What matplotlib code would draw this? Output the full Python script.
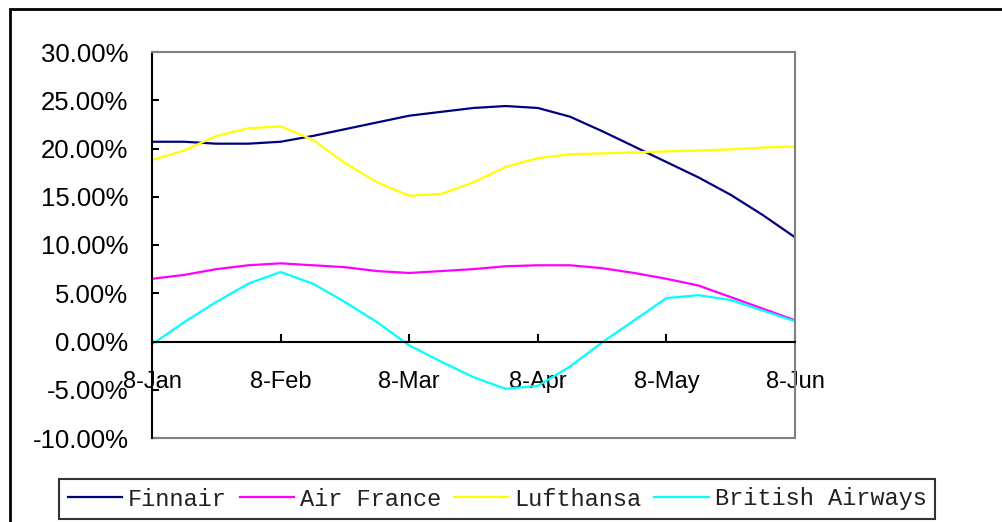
import matplotlib
matplotlib.use("Agg")
import matplotlib.pyplot as plt
from matplotlib.patches import Rectangle
from matplotlib.lines import Line2D

# 21 points, 4 per month (category axis)
tick_labels = ["8-Jan", "8-Feb", "8-Mar", "8-Apr", "8-May", "8-Jun"]
tick_every = 4

finnair = [20.7, 20.7, 20.5, 20.5, 20.7, 21.3, 22.0, 22.7, 23.4, 23.8, 24.2,
           24.4, 24.2, 23.3, 21.8, 20.2, 18.6, 17.0, 15.2, 13.1, 10.8]
air_france = [6.5, 6.9, 7.5, 7.9, 8.1, 7.9, 7.7, 7.3, 7.1, 7.3, 7.5,
              7.8, 7.9, 7.9, 7.6, 7.1, 6.5, 5.8, 4.6, 3.4, 2.2]
lufthansa = [18.8, 19.8, 21.3, 22.1, 22.3, 20.9, 18.5, 16.5, 15.1, 15.3, 16.5,
             18.1, 19.0, 19.4, 19.5, 19.6, 19.7, 19.8, 19.9, 20.1, 20.2]
british = [-0.3, 2.0, 4.1, 6.0, 7.2, 6.0, 4.1, 2.0, -0.4, -2.1, -3.7,
           -4.9, -4.6, -2.6, -0.1, 2.2, 4.5, 4.8, 4.3, 3.2, 2.1]

series = [("Finnair", finnair, "#000080"),
          ("Air France", air_france, "#FF00FF"),
          ("Lufthansa", lufthansa, "#FFFF00"),
          ("British Airways", british, "#00FFFF")]

fig = plt.figure(figsize=(10.02, 5.22), dpi=100)
ax = fig.add_axes([152/1002, 1-438/522, (795-152)/1002, (438-52)/522])

x = list(range(len(finnair)))
handles = []
for name, vals, col in series:
    h, = ax.plot(x, vals, color=col, lw=1.6, label=name)
    handles.append(h)

ax.set_xlim(0, len(finnair)-1)
ax.set_ylim(-10, 30)
ax.set_yticks(range(-10, 31, 5))
ax.set_yticklabels([f"{v:.2f}%" for v in range(-10, 31, 5)])
ax.set_xticks(range(0, len(finnair), tick_every))
ax.set_xticklabels(tick_labels)

for s in ["top", "right"]:
    ax.spines[s].set_color("#808080")
    ax.spines[s].set_linewidth(1.5)
ax.spines["left"].set_color("black")
ax.spines["left"].set_linewidth(1.5)
ax.spines["bottom"].set_position(("data", 0))
ax.spines["bottom"].set_color("black")
ax.spines["bottom"].set_linewidth(1.5)
ax.add_line(Line2D([0, 1], [0, 0], transform=ax.transAxes, color="#808080",
                   lw=1.5, clip_on=False))

ax.tick_params(axis="y", direction="in", length=5, width=1.5, pad=17,
               labelsize=18.5, colors="black")
ax.tick_params(axis="x", direction="in", length=6, width=1.5, pad=21,
               labelsize=17, colors="black")
for lab in ax.get_xticklabels() + ax.get_yticklabels():
    lab.set_fontfamily("Liberation Sans")

# outer frame
fig.add_artist(Rectangle((10/1002, -0.1), 1.2, 1-9/522+0.1,
                         transform=fig.transFigure, fill=False,
                         edgecolor="black", lw=2))

leg = fig.legend(handles=handles, loc="center",
                 bbox_to_anchor=(497/1002, 1-499/522), ncol=4,
                 prop={"family": "Liberation Mono", "size": 17},
                 frameon=True, fancybox=False, edgecolor="black",
                 handlelength=2.3, handletextpad=0.25, columnspacing=0.55,
                 borderpad=0.35, borderaxespad=0)
leg.get_frame().set_linewidth(1.5)
for t in leg.get_texts():
    t.set_color("#222222")

fig.savefig("out.png", dpi=100)
